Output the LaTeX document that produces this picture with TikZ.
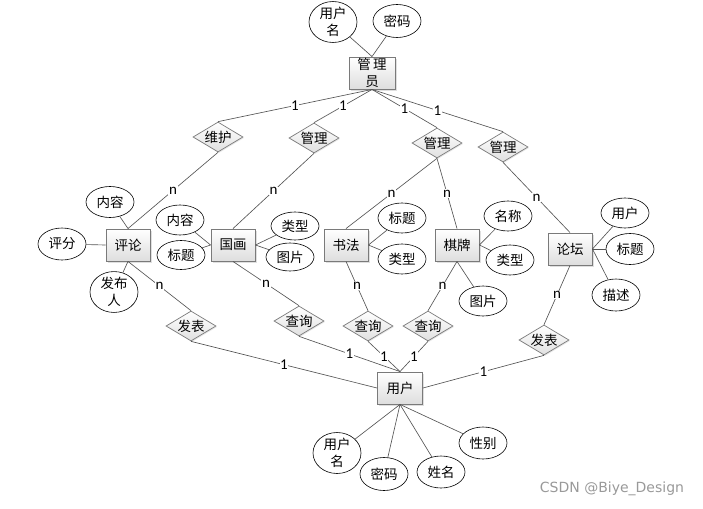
\documentclass[tikz,border=0pt]{standalone}
\usepackage{fontspec}
\setmainfont{Noto Sans CJK SC}
\newfontfamily\lblfont{Carlito}
\newfontfamily\wmfont{DejaVu Sans}
\usetikzlibrary{shapes.geometric,shadows}
\definecolor{boxc}{HTML}{7A7A7A}
\definecolor{linec}{HTML}{555555}
\begin{document}
\begin{tikzpicture}[x=1pt,y=-1pt,
  font=\fontsize{13.5}{16.5}\selectfont,
  ent/.style={draw=boxc, line width=0.9pt, top color=white, bottom color=black!13,
    minimum width=44pt, minimum height=32pt, inner sep=0pt, align=center,
    drop shadow={shadow xshift=1.6pt, shadow yshift=-1.6pt, opacity=0.25}},
  att/.style={ellipse, draw=black, line width=0.6pt, fill=white,
    minimum width=48pt, minimum height=31pt, inner sep=0pt, align=center},
  rel/.style={diamond, draw=boxc, line width=0.7pt, top color=white, bottom color=black!12,
    minimum width=50pt, minimum height=30pt, inner sep=0pt, aspect=1.67,
    drop shadow={shadow xshift=1pt, shadow yshift=-1pt, opacity=0.2}},
  ln/.style={draw=linec, line width=0.65pt},
  lbl/.style={fill=white, inner sep=0.6pt, pos=0.5, font=\lblfont\fontsize{15}{15}\selectfont}
]
\useasboundingbox (0,0) rectangle (703,508);

% entities
\node[ent, minimum width=46pt] (gly) at (372,73) {管\,理\\员};
\node[ent] (pl) at (128,245) {评论};
\node[ent] (gh) at (233,245) {国画};
\node[ent] (sf) at (346,245) {书法};
\node[ent] (qp) at (457,245) {棋牌};
\node[ent] (lt) at (570,249) {论坛};
\node[ent, minimum width=45pt] (yh) at (400,388) {用户};

% relationships
\node[rel] (wh) at (218,137) {维护};
\node[rel] (gl1) at (314,138) {管理};
\node[rel] (gl2) at (437,143) {管理};
\node[rel] (gl3) at (503,147) {管理};
\node[rel] (fb1) at (191,326) {发表};
\node[rel] (cx1) at (299,321) {查询};
\node[rel] (cx2) at (368,326) {查询};
\node[rel] (cx3) at (428,326) {查询};
\node[rel] (fb2) at (544,340) {发表};

% attributes
\node[att, minimum height=35pt] (a1) at (333,22) {用户\\名};
\node[att, minimum height=33pt] (a2) at (397,21) {密码};
\node[att] (b1) at (110,202) {内容};
\node[att, minimum height=32pt] (b2) at (62,244) {评分};
\node[att] (b3) at (114,292) {发布\\人};
\node[att, minimum height=30pt] (c1) at (180,220) {内容};
\node[att, minimum height=29pt] (c2) at (181,255) {标题};
\node[att, minimum height=28pt] (c3) at (295,226) {类型};
\node[att, minimum height=28pt] (c4) at (290,257) {图片};
\node[att, minimum height=30pt] (d1) at (402,218) {标题};
\node[att, minimum height=30pt] (d2) at (402,259) {类型};
\node[att, minimum height=30pt] (e1) at (508,216) {名称};
\node[att, minimum height=30pt] (e2) at (510,260) {类型};
\node[att, minimum height=30pt] (e3) at (483,301) {图片};
\node[att, minimum height=30pt] (f1) at (625,213) {用户};
\node[att, minimum height=31pt] (f2) at (630,249) {标题};
\node[att, minimum height=32pt] (f3) at (616,295) {描述};
\node[att, minimum height=32pt] (g1) at (337,453) {用户\\名};
\node[att, minimum height=33pt] (g2) at (384,474) {密码};
\node[att, minimum height=32pt] (g3) at (441,472) {姓名};
\node[att, minimum height=32pt] (g4) at (483,443) {性别};

% attribute lines
\draw[ln] (gly.north) -- (a1);
\draw[ln] (gly.north) -- (a2);
\draw[ln] (pl.north) -- (b1);
\draw[ln] (pl.west) -- (b2);
\draw[ln] (pl.south) -- (b3);
\draw[ln] (gh.west) -- (c1);
\draw[ln] (gh.west) -- (c2);
\draw[ln] (gh.east) -- (c3);
\draw[ln] (gh.east) -- (c4);
\draw[ln] (sf.east) -- (d1);
\draw[ln] (sf.east) -- (d2);
\draw[ln] (qp.east) -- (e1);
\draw[ln] (qp.east) -- (e2);
\draw[ln] (qp.south) -- (e3);
\draw[ln] (lt.east) -- (f1);
\draw[ln] (lt.east) -- (f2);
\draw[ln] (lt.east) -- (f3);
\draw[ln] (yh.south) -- (g1);
\draw[ln] (yh.south) -- (g2);
\draw[ln] (yh.south) -- (g3);
\draw[ln] (yh.south) -- (g4);

% relationship lines
\draw[ln] (gly.south) -- node[lbl] {1} (wh.north);
\draw[ln] (gly.south) -- node[lbl] {1} (gl1.north);
\draw[ln] (gly.south) -- node[lbl] {1} (gl2.north);
\draw[ln] (gly.south) -- node[lbl] {1} (gl3.north);
\draw[ln] (wh.south) -- node[lbl] {n} (pl.north);
\draw[ln] (gl1.south) -- node[lbl] {n} (gh.north);
\draw[ln] (gl2.south) -- node[lbl] {n} (sf.north);
\draw[ln] (gl2.south) -- node[lbl] {n} (qp.north);
\draw[ln] (gl3.south) -- node[lbl] {n} (lt.north);
\draw[ln] (pl.south) -- node[lbl] {n} (fb1.north);
\draw[ln] (gh.south) -- node[lbl] {n} (cx1.north);
\draw[ln] (sf.south) -- node[lbl] {n} (cx2.north);
\draw[ln] (qp.south) -- node[lbl] {n} (cx3.north);
\draw[ln] (lt.south) -- node[lbl] {n} (fb2.north);
\draw[ln] (fb1.south) -- node[lbl] {1} (yh.west);
\draw[ln] (cx1.south) -- node[lbl] {1} (yh.north);
\draw[ln] (cx2.south) -- node[lbl] {1} (yh.north);
\draw[ln] (cx3.south) -- node[lbl] {1} (yh.north);
\draw[ln] (fb2.south) -- node[lbl] {1} (yh.east);

% watermark
\node[font=\wmfont\fontsize{14}{14}\selectfont, text=black!40] (wm) at (612,489) {CSDN @Biye\_Design};
\end{tikzpicture}
\end{document}
